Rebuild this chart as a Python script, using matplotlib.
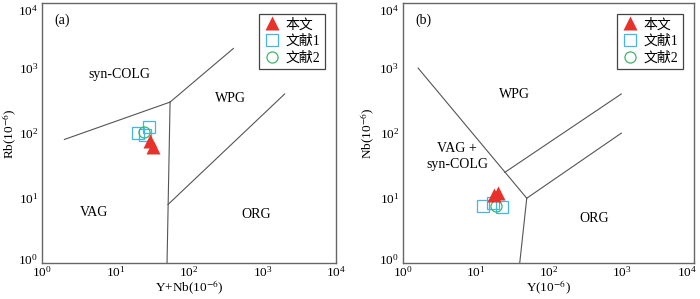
import matplotlib
matplotlib.use("Agg")
import matplotlib.pyplot as plt
from matplotlib.ticker import FixedLocator, NullLocator, LogFormatterSciNotation
from matplotlib.transforms import ScaledTranslation

plt.rcParams['font.family'] = ['Liberation Serif', 'Noto Sans CJK SC']
plt.rcParams['mathtext.fontset'] = 'stix'
plt.rcParams['font.size'] = 10

# panel (a): Y+Nb vs Rb
a_tri_x = [29.3, 32.0]
a_tri_y = [75, 61]
a_sq_x = [20.3, 28.4, 25.0]
a_sq_y = [100, 123, 94]
a_ci_x = [24.3]
a_ci_y = [104]

# panel (b): Y vs Nb
b_tri_x = [17.5, 19.9]
b_tri_y = [11.2, 11.9]
b_sq_x = [12.6, 17.3, 22.6]
b_sq_y = [7.7, 8.3, 7.4]
b_ci_x = [18.7]
b_ci_y = [7.6]

# discrimination boundaries (Pearce et al., 1984)
a_lines = [
    ([2, 55], [80, 300]),
    ([55, 400], [300, 2000]),
    ([55, 50], [300, 1]),
    ([51.5, 2000], [8, 400]),
]
b_lines = [
    ([1.6, 50], [1000, 10]),
    ([50, 1000], [10, 100]),
    ([50, 40], [10, 1]),
    ([25, 1000], [25, 400]),
]
decades = [1, 10, 100, 1000, 10000]

tri_col = '#e8312a'
sq_col = '#45b4e6'
ci_col = '#3db868'
line_col = '#555555'

fig = plt.figure(figsize=(7, 2.99), dpi=100)
ax1 = fig.add_axes([0.0604, 0.1194, 0.4196, 0.8706])
ax2 = fig.add_axes([0.5761, 0.1194, 0.4153, 0.8706])


def setup(ax, xlabel, ylabel, tag, ylab_x):
    ax.set_xscale('log')
    ax.set_yscale('log')
    ax.set_xlim(1, 1e4)
    ax.set_ylim(1, 1e4)
    ax.xaxis.set_major_locator(FixedLocator(decades))
    ax.yaxis.set_major_locator(FixedLocator(decades))
    ax.xaxis.set_major_formatter(LogFormatterSciNotation())
    ax.yaxis.set_major_formatter(LogFormatterSciNotation())
    ax.xaxis.set_minor_locator(NullLocator())
    ax.yaxis.set_minor_locator(NullLocator())
    ax.tick_params(length=0, pad=3, labelsize=9.5)
    ax.tick_params(axis='x', pad=1.5)
    for s in ax.spines.values():
        s.set_color('#666666')
        s.set_linewidth(1.0)
    ax.set_xlabel(xlabel, fontsize=9.5, va='bottom')
    ax.set_ylabel(ylabel, fontsize=9.5)
    ax.xaxis.set_label_coords(0.5, -0.131)
    ax.yaxis.set_label_coords(ylab_x, 0.5)
    ax.text(0.04, 0.96, tag, transform=ax.transAxes, va='top', ha='left', fontsize=10)


def draw(ax, lines, tx, ty, sx, sy, cx, cy):
    for xs, ys in lines:
        ax.plot(xs, ys, color=line_col, lw=0.8)
    ax.plot(sx, sy, 's', ms=8, mfc='none', mec=sq_col, mew=0.9, ls='none', label='文献1')
    ax.plot(cx, cy, 'o', ms=8, mfc='none', mec=ci_col, mew=0.9, ls='none', label='文献2')
    ax.plot(tx, ty, '^', ms=10, color=tri_col, mec='none', ls='none', label='本文')
    h, l = ax.get_legend_handles_labels()
    order = [2, 0, 1]
    leg = ax.legend([h[i] for i in order], [l[i] for i in order], loc='upper right',
                    fancybox=False, edgecolor='#444444', framealpha=1, fontsize=10,
                    handletextpad=0.4, borderpad=0.3, labelspacing=0.25,
                    handlelength=1.2, bbox_to_anchor=(0.985, 0.985))
    leg.get_frame().set_linewidth(0.9)


setup(ax1, 'Y+Nb(10$^{-6}$)', 'Rb(10$^{-6}$)', '(a)', -0.08)
draw(ax1, a_lines, a_tri_x, a_tri_y, a_sq_x, a_sq_y, a_ci_x, a_ci_y)
ax1.text(11.2, 800, 'syn-COLG', ha='center', va='center', fontsize=10)
ax1.text(370, 340, 'WPG', ha='center', va='center', fontsize=10)
ax1.text(5.0, 6.1, 'VAG', ha='center', va='center', fontsize=10)
ax1.text(815, 5.6, 'ORG', ha='center', va='center', fontsize=10)

setup(ax2, 'Y(10$^{-6}$)', 'Nb(10$^{-6}$)', '(b)', -0.09)
draw(ax2, b_lines, b_tri_x, b_tri_y, b_sq_x, b_sq_y, b_ci_x, b_ci_y)
ax2.text(33.6, 390, 'WPG', ha='center', va='center', fontsize=10)
ax2.text(5.5, 44, 'VAG +\nsyn-COLG', ha='center', va='center', fontsize=10, linespacing=1.3)
ax2.text(424, 4.8, 'ORG', ha='center', va='center', fontsize=10)

# nudge the edge labels so they stay inside the picture
fig.canvas.draw()
for ax in (ax1, ax2):
    ticks = ax.yaxis.get_major_ticks()
    top = ticks[-1].label1
    top.set_transform(top.get_transform() + ScaledTranslation(0, -5 / 72, fig.dpi_scale_trans))
    bot = ticks[0].label1
    bot.set_transform(bot.get_transform() + ScaledTranslation(0, 3 / 72, fig.dpi_scale_trans))
right = ax2.xaxis.get_major_ticks()[-1].label1
right.set_transform(right.get_transform() + ScaledTranslation(-5 / 72, 0, fig.dpi_scale_trans))

fig.savefig('out.png', dpi=100)
